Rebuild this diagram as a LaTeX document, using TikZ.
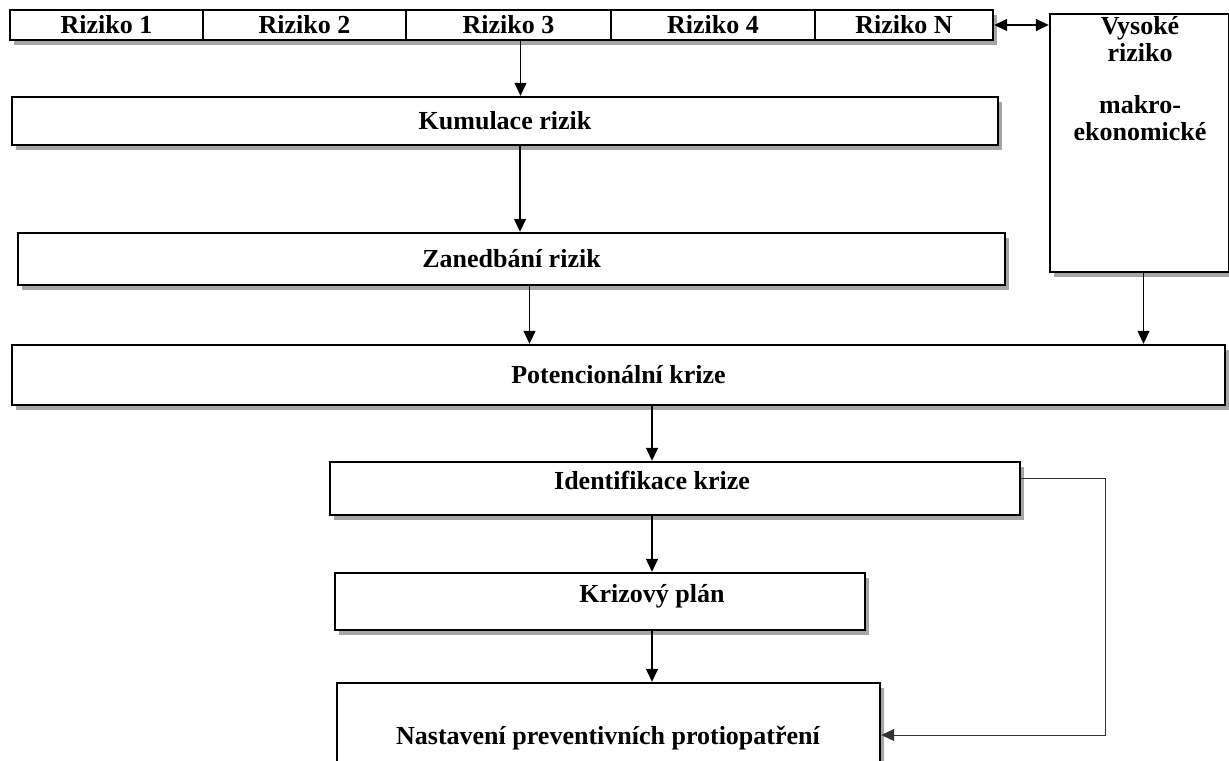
\documentclass[tikz,border=0pt]{standalone}
\usepackage{fontspec}
\setmainfont{Liberation Serif}
\usepackage{tikz}
\usetikzlibrary{arrows.meta,positioning,shadows,calc}
\definecolor{ink}{HTML}{000000}
\definecolor{shade}{HTML}{3A3A3A}
\tikzset{
  riskbox/.style={
    rectangle, draw=ink, line width=1.2pt, fill=white,
    minimum height=15pt, inner sep=0pt,
    font=\fontsize{13}{13.5}\selectfont\bfseries,
    drop shadow={opacity=0.45, shadow xshift=2pt, shadow yshift=-2.5pt, fill=shade}
  },
  stagebox/.style={
    rectangle, draw=ink, line width=1.2pt, fill=white,
    inner sep=0pt, font=\fontsize{13}{13.5}\selectfont\bfseries,
    drop shadow={opacity=0.45, shadow xshift=2pt, shadow yshift=-2.5pt, fill=shade}
  },
  boxtext/.style={font=\fontsize{13}{13.5}\selectfont\bfseries, inner sep=0pt, align=center},
  flow/.style={-{Triangle[length=6.5pt,width=6pt]}, line width=0.7pt, color=ink},
  flowboth/.style={{Triangle[length=6.5pt,width=6pt]}-{Triangle[length=6.5pt,width=6pt]}, line width=0.7pt, color=ink},
  loopline/.style={-{Triangle[length=6.5pt,width=6pt]}, line width=0.5pt, color=ink!80}
}
\begin{document}
\begin{tikzpicture}[x=0.5pt, y=-0.5pt]
  \useasboundingbox (0,0) rectangle (1229,760);
  % row of risks
  \node[riskbox, minimum width=96.5pt] (r1) at (106.5,25) {Riziko 1};
  \node[riskbox, minimum width=101.5pt] (r2) at (304.5,25) {Riziko 2};
  \node[riskbox, minimum width=102.5pt] (r3) at (508.5,25) {Riziko 3};
  \node[riskbox, minimum width=102pt] (r4) at (713,25) {Riziko 4};
  \node[riskbox, minimum width=89pt] (rn) at (904,25) {Riziko N};
  % macro box on the right
  \node[stagebox, minimum width=89.5pt, minimum height=129pt] (macro) at (1139.5,143) {};
  \node[boxtext, anchor=north] (macrotxt) at (1140,16) {Vysoké\\riziko\\[12.5pt]makro-\\ekonomické};
  % chain of stages
  \node[stagebox, minimum width=493pt, minimum height=24pt] (kum) at (505,121) {Kumulace rizik};
  \node[stagebox, minimum width=493.5pt, minimum height=26pt] (zan) at (511.5,259) {Zanedbání rizik};
  \node[stagebox, minimum width=606.5pt, minimum height=30pt] (pot) at (618.5,375) {Potencionální krize};
  \node[stagebox, minimum width=345pt, minimum height=26.5pt] (ident) at (675,488.5) {};
  \node[boxtext] (identtxt) at (652,480) {Identifikace krize};
  \node[stagebox, minimum width=265pt, minimum height=28.5pt] (plan) at (600,601.5) {};
  \node[boxtext] (plantxt) at (652,596) {Krizový plán};
  \node[stagebox, minimum width=271.5pt, minimum height=45pt] (nast) at (608.5,728) {};
  \node[boxtext] (nasttxt) at (608,738) {Nastavení preventivních protiopatření};
  % connectors
  \draw[flowboth] (rn.east) -- (rn.east -| macro.west);
  \draw[flow] ([xshift=6pt]r3.south) -- ([xshift=6pt]r3.south |- kum.north);
  \draw[flow] ([xshift=7.5pt]kum.south) -- ([xshift=7.5pt]kum.south |- zan.north);
  \draw[flow] ([xshift=9pt]zan.south) -- ([xshift=9pt]zan.south |- pot.north);
  \draw[flow] ([xshift=2pt]macro.south) -- ([xshift=2pt]macro.south |- pot.north);
  \draw[flow] (identtxt.north |- pot.south) -- (identtxt.north |- ident.north);
  \draw[flow] (identtxt.south |- ident.south) -- (identtxt.south |- plan.north);
  \draw[flow] (plantxt.south |- plan.south) -- (plantxt.south |- nast.north);
  \coordinate (bend) at (1105,478);
  \coordinate (drop) at (1105,735);
  \draw[loopline] (ident.east |- bend) -- (bend) -- (drop) -- (nast.east |- drop);
\end{tikzpicture}
\end{document}
